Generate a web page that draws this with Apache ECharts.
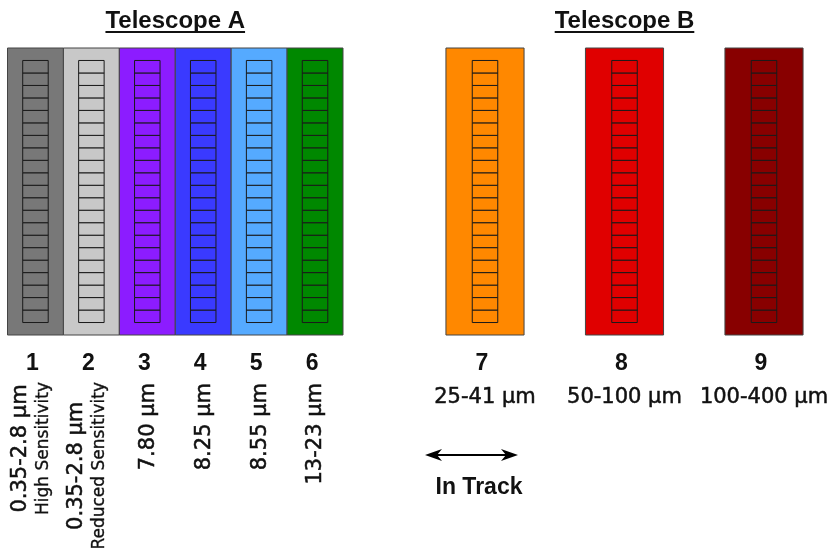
<!DOCTYPE html>
<html><head><meta charset="utf-8">
<script src="https://cdn.jsdelivr.net/npm/echarts@6/dist/echarts.min.js"></script>
<style>html,body{margin:0;padding:0;background:#fff}#c{width:839px;height:557px}</style>
</head><body><div id="c"></div>
<script>
// ---- data ----
const channels = ['1','2','3','4','5','6','7','8','9'];
const telescopes = ['A','A','A','A','A','A','B','B','B'];
const wavelengths = ['0.35-2.8 µm','0.35-2.8 µm','7.80 µm','8.25 µm','8.55 µm','13-23 µm','25-41 µm','50-100 µm','100-400 µm'];
const notes = ['High Sensitivity','Reduced Sensitivity','','','','','','',''];
const elementsPerChannel = 21;
const telescopeNames = ['A','B'];
const telescopeTitles = ['Telescope A','Telescope B'];
const directionLabel = 'In Track';

// ---- styles ----
const palette = ['#787878','#c8c8c8','#8c1cff','#3a3aff','#55aaff','#008800','#ff8800','#e00000','#880000'];
const panelFrac = {A: 1, B: 0.56};
const STRIP_W = 25.5;
const NUM_FONT = 'bold 23px "Liberation Sans"';
const MAIN_FONT = '21px "DejaVu Sans"';
const NOTE_FONT = '17px "DejaVu Sans"';
const TITLE_FONT = 'bold 24px "Liberation Sans"';
const INK = '#111';
const THICK = {stroke: '#111', lineWidth: 0.5};
const gridBoxes = [
  {left: 7.5, top: 48, width: 335.5, height: 287},
  {left: 415.25, top: 48, width: 418.5, height: 287}
];

const mctx = document.createElement('canvas').getContext('2d');
function tw(font, t) { mctx.font = font; return mctx.measureText(t).width; }

const chart = echarts.init(document.getElementById('c'), null, {renderer: 'canvas'});
const yMax = elementsPerChannel + 2;

function txt(o) { return Object.assign({fill: INK, align: 'center', verticalAlign: 'middle'}, o); }

const series = [];
const xAxes = [], yAxes = [], grids = [];
telescopeNames.forEach((tName, gi) => {
  const idx = channels.map((c, i) => i).filter(i => telescopes[i] === tName);
  grids.push(Object.assign({containLabel: false}, gridBoxes[gi]));
  xAxes.push({type: 'category', gridIndex: gi, data: idx.map(i => channels[i]), boundaryGap: true, show: false});
  yAxes.push({type: 'value', gridIndex: gi, min: 0, max: yMax, show: false});
  const panelData = idx.map((g, li) => [li, 0, yMax, g]);
  const cellData = [];
  idx.forEach((g, li) => { for (let k = 1; k <= elementsPerChannel; k++) cellData.push([li, k, k + 1, g]); });
  const frac = panelFrac[tName];
  series.push({
    type: 'custom', xAxisIndex: gi, yAxisIndex: gi, data: panelData, silent: true, clip: false,
    renderItem: (p, api) => {
      const c0 = api.coord([api.value(0), api.value(1)]);
      const c1 = api.coord([api.value(0), api.value(2)]);
      const bw = api.size([1, 0])[0] * frac;
      return {type: 'rect', shape: {x: c0[0] - bw / 2, y: c1[1], width: bw, height: c0[1] - c1[1]},
        style: {fill: palette[api.value(3)], stroke: '#444', lineWidth: 1}};
    }
  });
  series.push({
    type: 'custom', xAxisIndex: gi, yAxisIndex: gi, data: cellData, silent: true, clip: false,
    renderItem: (p, api) => {
      const c0 = api.coord([api.value(0), api.value(1)]);
      const c1 = api.coord([api.value(0), api.value(2)]);
      return {type: 'rect', shape: {x: c0[0] - STRIP_W / 2, y: c1[1], width: STRIP_W, height: c0[1] - c1[1]},
        style: {fill: palette[api.value(3)], stroke: '#1a1a1a', lineWidth: 1}};
    }
  });
  series.push({
    type: 'custom', xAxisIndex: gi, yAxisIndex: gi, data: panelData, silent: true, clip: false,
    renderItem: (p, api) => {
      const g = api.value(3);
      const c = api.coord([api.value(0), 0]);
      const cx = c[0], by = c[1];
      const children = [{type: 'text', x: cx - 3, y: by + 28.5,
        style: txt({text: channels[g], font: NUM_FONT})}];
      if (tName === 'B') {
        children.push({type: 'text', x: cx, y: by + 62.5,
          style: txt(Object.assign({text: wavelengths[g], font: MAIN_FONT}, THICK))});
      } else if (notes[g]) {
        const wm = tw(MAIN_FONT, wavelengths[g]), wn = tw(NOTE_FONT, notes[g]);
        const bc = by + 47 + Math.max(wm, wn) / 2;
        children.push({type: 'text', x: cx - 14.5, y: bc, rotation: Math.PI / 2,
          style: txt(Object.assign({text: wavelengths[g], font: MAIN_FONT}, THICK))});
        children.push({type: 'text', x: cx + 8.5, y: bc, rotation: Math.PI / 2,
          style: txt(Object.assign({text: notes[g], font: NOTE_FONT}, THICK, {lineWidth: 0.35}))});
      } else {
        children.push({type: 'text', x: cx + 1, y: by + 48, rotation: Math.PI / 2,
          style: txt(Object.assign({text: wavelengths[g], font: MAIN_FONT, align: 'right'}, THICK))});
      }
      return {type: 'group', children};
    }
  });
});

// titles & annotation
const graphic = [];
gridBoxes.forEach((b, gi) => {
  const cx = b.left + b.width / 2;
  const w = tw(TITLE_FONT, telescopeTitles[gi]);
  graphic.push({type: 'text', x: cx, y: 21, style: txt({text: telescopeTitles[gi], font: TITLE_FONT})});
  graphic.push({type: 'line', shape: {x1: cx - w / 2, y1: 32, x2: cx + w / 2, y2: 32}, style: {stroke: INK, lineWidth: 2}});
});
const ax = 425, bx = 518, ay = 455;
graphic.push({type: 'line', shape: {x1: ax + 8, y1: ay, x2: bx - 8, y2: ay}, style: {stroke: '#000', lineWidth: 2}});
graphic.push({type: 'polygon', shape: {points: [[ax, ay], [ax + 17, ay - 6], [ax + 12, ay], [ax + 17, ay + 6]]}, style: {fill: '#000'}});
graphic.push({type: 'polygon', shape: {points: [[bx, ay], [bx - 17, ay - 6], [bx - 12, ay], [bx - 17, ay + 6]]}, style: {fill: '#000'}});
graphic.push({type: 'text', x: 479, y: 488, style: txt({text: directionLabel, font: 'bold 23px "Liberation Sans"'})});

chart.setOption({
  backgroundColor: '#fff',
  animation: false,
  grid: grids, xAxis: xAxes, yAxis: yAxes,
  series, graphic
});
</script></body></html>
